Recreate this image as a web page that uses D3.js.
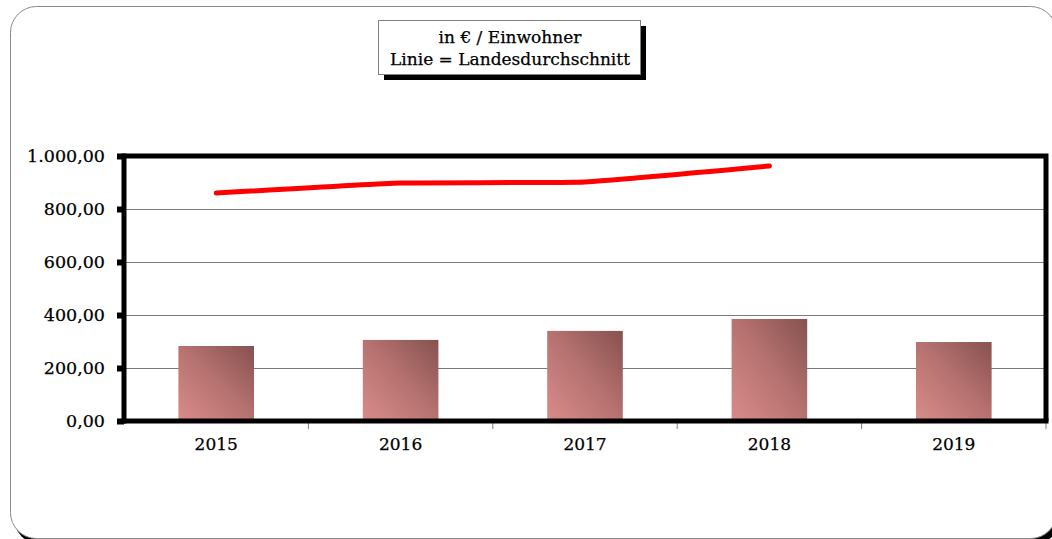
<!DOCTYPE html>
<html>
<head>
<meta charset="utf-8">
<script src="https://cdn.jsdelivr.net/npm/d3@7"></script>
<style>
body { margin: 0; background: #fff; }
text { font-family: "DejaVu Serif", serif; stroke: black; stroke-width: 0.25px; }
</style>
</head>
<body>
<div id="viz-container"></div>
<script>
// data
let years = ["2015", "2016", "2017", "2018", "2019"];
let barValues = [283, 306, 340, 385, 298];
let lineYears = ["2015", "2016", "2017", "2018"];
let lineValues = [860, 898, 902, 962];
let yTicks = [0, 200, 400, 600, 800, 1000];
let titleLines = ["in € / Einwohner", "Linie = Landesdurchschnitt"];

let w = 1052, h = 539;
let viz = d3.select("#viz-container")
    .append("svg")
    .attr("width", w)
    .attr("height", h);

// outer rounded frame with shadow
viz.append("rect")
    .attr("x", 14).attr("y", 10)
    .attr("width", 1046).attr("height", 534)
    .attr("rx", 26)
    .attr("fill", "black");
viz.append("rect")
    .attr("x", 10.5).attr("y", 6.5)
    .attr("width", 1046).attr("height", 532)
    .attr("rx", 26)
    .attr("fill", "white")
    .attr("stroke", "#8a8a8a")
    .attr("stroke-width", 1);

let plotL = 124, plotR = 1046, plotT = 156, plotB = 421;

let xScale = d3.scaleBand().domain(years).range([plotL, plotR]).paddingInner(0).paddingOuter(0);
let yScale = d3.scaleLinear().domain([0, 1000]).range([plotB, plotT]);

// gradient for bars
let defs = viz.append("defs");
let grad = defs.append("linearGradient")
    .attr("id", "barGrad")
    .attr("x1", "0%").attr("y1", "100%")
    .attr("x2", "100%").attr("y2", "0%");
grad.append("stop").attr("offset", "0%").attr("stop-color", "#d98c8a");
grad.append("stop").attr("offset", "50%").attr("stop-color", "#b77371");
grad.append("stop").attr("offset", "100%").attr("stop-color", "#85524f");

// gridlines
viz.append("g")
    .selectAll("line")
    .data(yTicks.filter(d => d > 0 && d < 1000))
    .enter()
    .append("line")
    .attr("x1", plotL).attr("x2", plotR)
    .attr("y1", d => yScale(d) + 0.5).attr("y2", d => yScale(d) + 0.5)
    .attr("stroke", "#7a7a7a")
    .attr("stroke-width", 1);

// bars
let barW = xScale.bandwidth() * 0.41;
viz.append("g")
    .selectAll("rect")
    .data(years)
    .enter()
    .append("rect")
    .attr("x", (d) => xScale(d) + xScale.bandwidth() / 2 - barW / 2)
    .attr("y", (d, i) => yScale(barValues[i]))
    .attr("width", barW)
    .attr("height", (d, i) => yScale(0) - yScale(barValues[i]))
    .attr("fill", "url(#barGrad)");

// plot frame top / right
viz.append("path")
    .attr("d", "M" + plotL + "," + plotT + "H" + plotR + "V" + plotB)
    .attr("fill", "none")
    .attr("stroke", "black")
    .attr("stroke-width", 5);

// x axis
let xAxisGroup = viz.append("g").attr("class", "xAxis")
    .attr("transform", "translate(0," + plotB + ")");
let xAxis = d3.axisBottom(xScale).tickSize(0).tickPadding(17);
xAxisGroup.call(xAxis);
xAxisGroup.select(".domain").remove();
xAxisGroup.selectAll("text")
    .attr("font-family", "DejaVu Serif")
    .attr("font-size", 17)
    .attr("fill", "black");
// category separators
viz.append("g")
    .selectAll("line")
    .data(years.slice(1).concat(["end"]))
    .enter()
    .append("line")
    .attr("x1", d => d === "end" ? plotR : xScale(d))
    .attr("x2", d => d === "end" ? plotR : xScale(d))
    .attr("y1", plotB).attr("y2", plotB + 8)
    .attr("stroke", "#808080")
    .attr("stroke-width", 1);
viz.append("line")
    .attr("x1", plotL - 2.5).attr("x2", plotR + 2.5)
    .attr("y1", plotB).attr("y2", plotB)
    .attr("stroke", "black").attr("stroke-width", 5);

// y axis
let yAxisGroup = viz.append("g").attr("class", "yAxis")
    .attr("transform", "translate(" + plotL + ",0)");
let fmt = d3.formatLocale({decimal: ",", thousands: ".", grouping: [3], currency: ["", "€"]}).format(",.2f");
let yAxis = d3.axisLeft(yScale).tickValues(yTicks).tickFormat(fmt).tickSize(7).tickPadding(12);
yAxisGroup.call(yAxis);
yAxisGroup.select(".domain")
    .attr("stroke-width", 5)
    .attr("d", "M0," + (plotT - 2.5) + "V" + (plotB + 2.5));
yAxisGroup.selectAll(".tick line")
    .attr("stroke-width", 6);
yAxisGroup.selectAll("text")
    .attr("font-family", "DejaVu Serif")
    .attr("font-size", 17.5)
    .attr("fill", "black");

// Landesdurchschnitt line
let lineGenerator = d3.line()
    .x((d, i) => xScale(lineYears[i]) + xScale.bandwidth() / 2)
    .y(d => yScale(d))
    .curve(d3.curveCardinal.tension(0.6));
viz.append("path")
    .datum(lineValues)
    .attr("fill", "none")
    .attr("stroke", "#ff0000")
    .attr("stroke-width", 5)
    .attr("stroke-linecap", "round")
    .attr("d", lineGenerator);

// title box
let bx = 378, by = 20, bw = 262, bh = 54;
viz.append("rect")
    .attr("x", bx + 6).attr("y", by + 6)
    .attr("width", bw).attr("height", bh)
    .attr("fill", "black");
viz.append("rect")
    .attr("x", bx + 0.5).attr("y", by + 0.5)
    .attr("width", bw).attr("height", bh)
    .attr("fill", "white")
    .attr("stroke", "#808080");
viz.append("g")
    .selectAll("text")
    .data(titleLines)
    .enter()
    .append("text")
    .attr("x", bx + bw / 2 + 1)
    .attr("y", (d, i) => by + 23 + i * 22)
    .attr("text-anchor", "middle")
    .attr("font-size", 17)
    .attr("fill", "black")
    .text(d => d);
</script>
</body>
</html>
